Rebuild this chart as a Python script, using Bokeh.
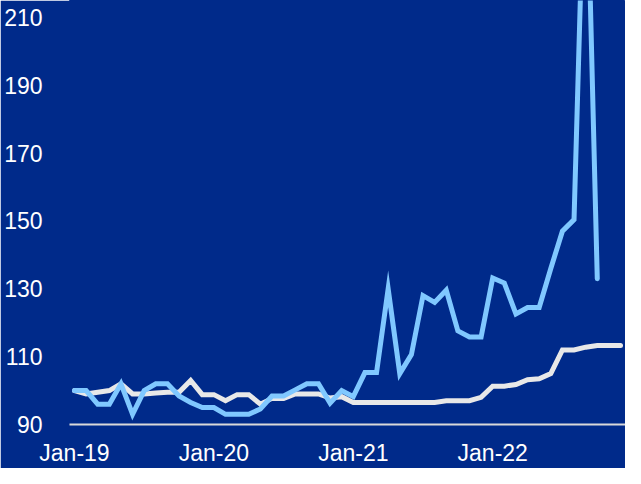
from bokeh.plotting import figure
from bokeh.models import FixedTicker, Range1d
from bokeh.embed import file_html
from bokeh.resources import INLINE

# Monthly observations, Jan-19 .. Dec-22
months = [f"{m}-{y}" for y in ("19", "20", "21", "22")
          for m in ("Jan", "Feb", "Mar", "Apr", "May", "Jun",
                    "Jul", "Aug", "Sep", "Oct", "Nov", "Dec")]

# White/grey series (Jan-19 .. Dec-22)
series_grey = [100, 99, 99.5, 100, 102, 99, 99, 99.3, 99.5, 99.5, 103, 98.8,
               98.8, 97, 98.8, 98.8, 96, 97.7, 97.7, 99, 99, 99, 97.8, 98.2,
               96.5, 96.5, 96.5, 96.5, 96.5, 96.5, 96.5, 96.5, 97, 97, 97, 98,
               101.3, 101.3, 101.8, 103.2, 103.5, 105, 112, 112, 112.8, 113.3, 113.3, 113.3]

# Light-blue series (Jan-19 .. Oct-22)
series_blue = [100, 100, 96, 96, 102, 93, 100, 102, 102, 98.4, 96.5, 95,
               95, 93, 93, 93, 94.6, 98.4, 98.4, 100.2, 102, 102, 96.3, 100,
               98.2, 105.3, 105.3, 130, 105, 110.6, 128, 126, 129.6, 117.6, 115.8, 115.8,
               133.2, 131.7, 122.6, 124.5, 124.5, 136, 147, 150.4, 270, 133]

y_ticks = [90, 110, 130, 150, 170, 190, 210]
x_tick_labels = ["Jan-19", "Jan-20", "Jan-21", "Jan-22"]

BG = "#002A8A"
GREY = "#E8E8E8"
BLUE = "#80C8FF"

x_grey = list(range(len(series_grey)))
x_blue = list(range(len(series_blue)))

p = figure(width=625, height=468, output_backend="svg", toolbar_location=None,
           x_range=Range1d(-0.43, 47.43), y_range=Range1d(90, 215),
           min_border_left=69, min_border_right=0, min_border_top=0, min_border_bottom=37)

p.background_fill_color = BG
p.border_fill_color = BG
p.outline_line_color = BG
p.outline_line_width = 1
p.xgrid.visible = False
p.ygrid.visible = False

p.line(x_grey, series_grey, line_color=GREY, line_width=5,
       line_join="miter", line_cap="round")
p.line(x_blue, series_blue, line_color=BLUE, line_width=5,
       line_join="miter", line_cap="round")

xt = [months.index(t) for t in x_tick_labels]
p.xaxis.ticker = FixedTicker(ticks=xt)
p.xaxis.major_label_overrides = {i: months[i] for i in xt}
p.xaxis.axis_line_color = "#D9D9D9"
p.xaxis.axis_line_width = 2
p.xaxis.major_tick_line_color = None
p.xaxis.minor_tick_line_color = None
p.xaxis.major_label_standoff = 9
p.xaxis.major_label_text_color = "white"
p.xaxis.major_label_text_font = "Liberation Sans"
p.xaxis.major_label_text_font_size = "23px"

p.yaxis.ticker = FixedTicker(ticks=y_ticks)
p.yaxis.axis_line_color = None
p.yaxis.major_tick_line_color = None
p.yaxis.minor_tick_line_color = None
p.yaxis.major_label_standoff = 21
p.yaxis.major_label_text_color = "white"
p.yaxis.major_label_text_font = "Liberation Sans"
p.yaxis.major_label_text_font_size = "23px"

open("out.html", "w").write(file_html(p, INLINE))
